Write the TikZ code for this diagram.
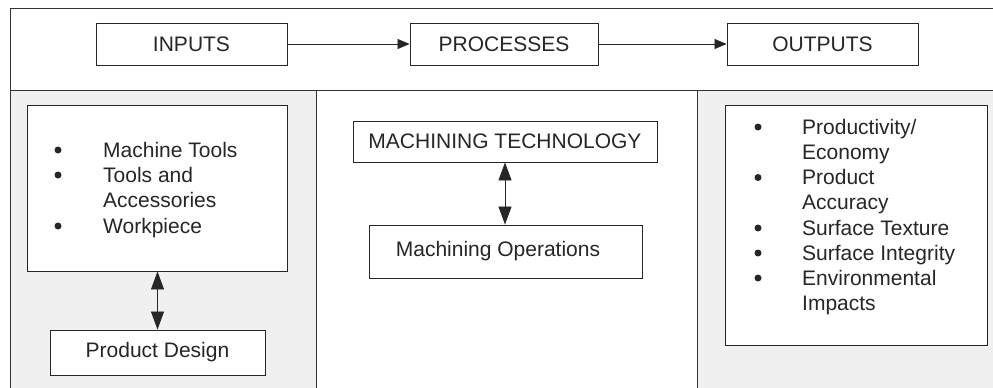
\documentclass[tikz,border=0pt]{standalone}
\usepackage{fontspec}
\setmainfont{Liberation Sans}
\usetikzlibrary{arrows.meta}
\tikzset{
  box/.style={draw=black!85, line width=0.9pt, fill=white, inner sep=0pt},
  frameline/.style={draw=black!80, line width=1pt},
  txt/.style={inner sep=0pt, anchor=base west, font=\fontsize{21}{25}\selectfont, text=black!85},
  ctxt/.style={inner sep=0pt, font=\fontsize{21}{25}\selectfont, text=black!85},
  bul/.style={circle, fill=black!85, draw=none, inner sep=0pt, minimum size=7pt},
  flow/.style={draw=black!85, line width=0.8pt, -{Triangle[length=12pt,width=10pt]}},
  link/.style={draw=black!85, line width=0.8pt, {Triangle[length=18pt,width=13pt]}-{Triangle[length=18pt,width=13pt]}},
  panel/.style={fill=black!6, draw=none}
}
\begin{document}
\begin{tikzpicture}[x=1pt,y=-1pt]
\useasboundingbox (0,0) rectangle (993,388);
\fill[white] (0,0) rectangle (993,388);
% shaded panels
\path[panel] (10,90) rectangle (316,388);
\path[panel] (697,90) rectangle (993,388);
% frame lines
\draw[frameline] (993,8) -- (10,8) -- (10,388);
\draw[frameline] (10,90) -- (993,90);
\draw[frameline] (316,90) -- (316,388);
\draw[frameline] (697,90) -- (697,388);
% top row
\node[box, minimum width=191pt, minimum height=42pt] (in) at (191.5,44) {};
\node[ctxt] (intxt) at (in.center) {INPUTS};
\node[box, minimum width=188pt, minimum height=42pt] (pr) at (504,44) {};
\node[ctxt] (prtxt) at (pr.center) {PROCESSES};
\node[box, minimum width=191pt, minimum height=42pt] (out) at (822.5,44) {};
\node[ctxt] (outtxt) at (out.center) {OUTPUTS};
\draw[flow] (in.east) -- (pr.west);
\draw[flow] (pr.east) -- (out.west);
% left panel
\node[box, minimum width=260pt, minimum height=166pt] (inbox) at (157,188) {};
\node[bul] (lba) at (58,150) {};
\node[bul] (lbb) at (58,175) {};
\node[bul] (lbc) at (58,226) {};
\node[txt] (l1) at (103,157) {Machine Tools};
\node[txt] (l2) at (103,182) {Tools and};
\node[txt] (l3) at (103,207) {Accessories};
\node[txt] (l4) at (103,233) {Workpiece};
\node[box, minimum width=215pt, minimum height=45pt] (pd) at (157.5,352.5) {};
\node[ctxt] (pdtxt) at (pd.center) {Product Design};
\draw[link] (inbox.south -| pd.north) -- (pd.north);
% middle panel
\node[box, minimum width=304pt, minimum height=41pt] (mt) at (505,141.5) {};
\node[ctxt] (mttxt) at (mt.center) {MACHINING TECHNOLOGY};
\node[box, minimum width=273pt, minimum height=53pt] (mo) at (505.5,251.5) {};
\node[ctxt] (motxt) at (498,251.5) {Machining Operations};
\draw[link] (mt.south) -- (mo.north -| mt.south);
% right panel
\node[box, minimum width=262pt, minimum height=240pt] (outbox) at (856,225) {};
\node[bul] (rb1) at (758,127) {};
\node[bul] (rb2) at (758,177.5) {};
\node[bul] (rb3) at (758,228) {};
\node[bul] (rb4) at (758,253) {};
\node[bul] (rb5) at (758,278) {};
\node[txt] (r1) at (802,134) {Productivity/};
\node[txt] (r2) at (802,159) {Economy};
\node[txt] (r3) at (802,184.5) {Product};
\node[txt] (r4) at (802,209.5) {Accuracy};
\node[txt] (r5) at (802,235) {Surface Texture};
\node[txt] (r6) at (802,260) {Surface Integrity};
\node[txt] (r7) at (802,285) {Environmental};
\node[txt] (r8) at (802,310) {Impacts};
\end{tikzpicture}
\end{document}
